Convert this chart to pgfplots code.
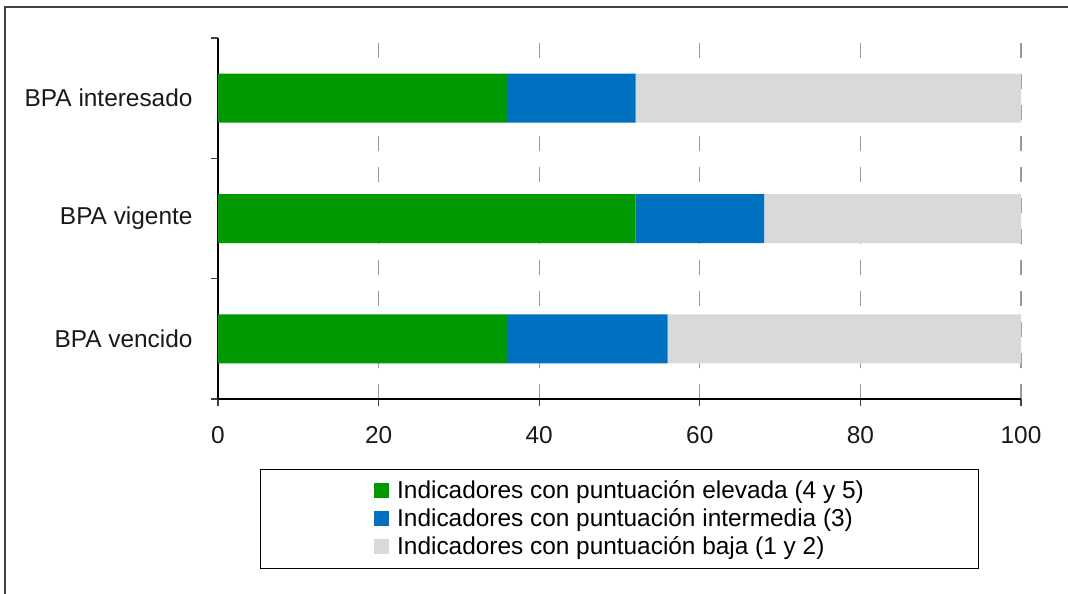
\documentclass[border=0pt]{standalone}
\usepackage{fontspec}
\setmainfont{Liberation Sans}
\usepackage{pgfplots}
\pgfplotsset{compat=1.18}
\definecolor{cgreen}{RGB}{0,153,0}
\definecolor{cblue}{RGB}{0,112,192}
\definecolor{cgray}{RGB}{217,217,217}
\begin{document}
\fontsize{12.2}{14.6}\selectfont
\begin{tikzpicture}[font=\fontsize{12.2}{14.6}\selectfont]
\begin{axis}[
  xbar stacked,
  scale only axis,
  width=401.5pt, height=180.5pt,
  xmin=0, xmax=100, ymin=-0.5, ymax=2.5,
  bar width=24.5pt,
  axis x line*=bottom, axis y line*=left,
  axis line style={black, line width=0.6pt},
  xtick={0,20,40,60,80,100},
  ytick={-0.5,0.5,1.5,2.5}, yticklabels={},
  extra y ticks={0,1,2},
  extra y tick labels={BPA vencido, BPA vigente, BPA interesado},
  extra y tick style={major tick length=0pt, yticklabel style={xshift=-8.5pt}},
  tick align=outside,
  major tick length=3.5pt,
  tick style={black!75, line width=0.6pt},
  xticklabel style={yshift=-6pt},
  /pgf/number format/assume math mode=true,
  ticklabel style={text=black!90},
  xmajorgrids,
  major x grid style={black!40, dash pattern=on 7.5pt off 8pt, line width=0.6pt},
  legend style={at={(0.5,-0.194)}, anchor=north, draw=black, line width=0.6pt,
    inner xsep=53.5pt, inner ysep=3.6pt,
    cells={anchor=west},
    nodes={inner ysep=1.6pt, inner xsep=4pt},
    font=\fontsize{12.2}{14.6}\selectfont},
  legend image code/.code={\path (0pt,0pt); \fill[#1] (3.5pt,-3.75pt) rectangle (11pt,3.75pt);},
]
\addplot[fill=cgreen, draw=none] coordinates {(36,0) (52,1) (36,2)};
\addplot[fill=cblue, draw=none] coordinates {(20,0) (16,1) (16,2)};
\addplot[fill=cgray, draw=none] coordinates {(44,0) (32,1) (48,2)};
\legend{Indicadores con puntuación elevada (4 y 5),
        Indicadores con puntuación intermedia (3),
        Indicadores con puntuación baja (1 y 2)}
\end{axis}
\draw[black!75, line width=1pt] (-106.5pt,-120pt) -- (-106.5pt,196pt) -- (450pt,196pt);
\pgfresetboundingbox
\path (-109pt,-97pt) rectangle (425pt,199.5pt);
\end{tikzpicture}
\end{document}
